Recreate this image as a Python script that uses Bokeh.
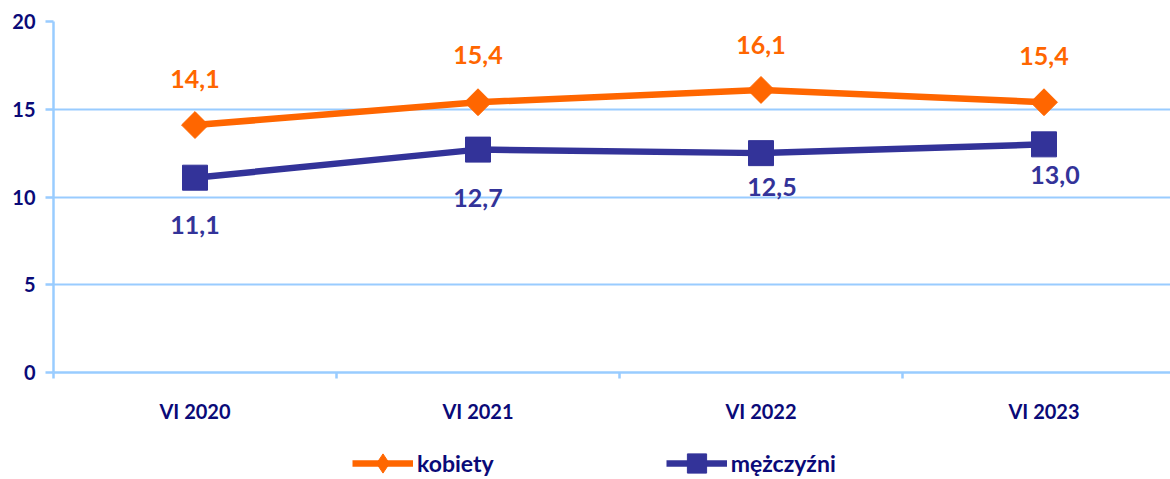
from bokeh.plotting import figure
from bokeh.layouts import column
from bokeh.models import ColumnDataSource, FixedTicker, Legend, LegendItem, Range1d
from bokeh.core.properties import value
from bokeh.embed import file_html
from bokeh.resources import INLINE

categories = ["VI 2020", "VI 2021", "VI 2022", "VI 2023"]
kobiety = [14.1, 15.4, 16.1, 15.4]
mezczyzni = [11.1, 12.7, 12.5, 13.0]
series_names = ["kobiety", "mężczyźni"]

ORANGE = "#ff6600"
NAVY = "#333399"
DARK = "#0a0a78"
GRID = "#99ccff"
FONT = "Lato"

xs = [i + 0.5 for i in range(len(categories))]

def fmt(v):
    return f"{v:.1f}".replace(".", ",")

src_k = ColumnDataSource(dict(x=xs, y=kobiety, t=[fmt(v) for v in kobiety],
                              dx=[0, 0, 0, 0], dy=[-46, -47, -45, -46]))
src_m = ColumnDataSource(dict(x=xs, y=mezczyzni, t=[fmt(v) for v in mezczyzni],
                              dx=[0, 0, 11, 11], dy=[47, 48, 34, 31]))

p = figure(frame_width=1117, frame_height=351, output_backend="svg", toolbar_location=None,
           x_range=Range1d(0, 1117 / 283), y_range=Range1d(0, 20),
           min_border_left=53, min_border_right=0, min_border_top=21, min_border_bottom=60)
p.outline_line_color = None
p.background_fill_color = "white"
p.border_fill_color = "white"

# axes
p.xgrid.grid_line_color = None
p.ygrid.grid_line_color = GRID
p.ygrid.grid_line_width = 2
p.ygrid.ticker = FixedTicker(ticks=[0, 5, 10, 15, 20])

p.yaxis.ticker = FixedTicker(ticks=[0, 5, 10, 15, 20])
p.yaxis.axis_line_color = GRID
p.yaxis.axis_line_width = 2.5
p.yaxis.major_tick_line_color = GRID
p.yaxis.major_tick_line_width = 2.5
p.yaxis.major_tick_out = 8
p.yaxis.major_tick_in = 0
p.yaxis.minor_tick_line_color = None
p.yaxis.major_label_standoff = 10
p.yaxis.major_label_text_font = FONT
p.yaxis.major_label_text_font_style = "bold"
p.yaxis.major_label_text_font_size = "20px"
p.yaxis.major_label_text_color = DARK

p.xaxis.ticker = FixedTicker(ticks=xs, minor_ticks=[0, 1, 2, 3])
p.xaxis.major_label_overrides = {x: c for x, c in zip(xs, categories)}
p.xaxis.axis_line_color = GRID
p.xaxis.axis_line_width = 2.5
p.xaxis.major_tick_line_color = None
p.xaxis.major_tick_out = 0
p.xaxis.major_tick_in = 0
p.xaxis.minor_tick_line_color = GRID
p.xaxis.minor_tick_line_width = 2.5
p.xaxis.minor_tick_out = 6
p.xaxis.minor_tick_in = 0
p.xaxis.major_label_standoff = 20
p.xaxis.major_label_text_font = FONT
p.xaxis.major_label_text_font_style = "bold"
p.xaxis.major_label_text_font_size = "20px"
p.xaxis.major_label_text_color = DARK

# series
p.line("x", "y", source=src_k, line_color=ORANGE, line_width=6.5)
p.scatter("x", "y", source=src_k, marker="square", angle=0.785398, size=19,
          fill_color=ORANGE, line_color=ORANGE)
p.line("x", "y", source=src_m, line_color=NAVY, line_width=6.5)
p.scatter("x", "y", source=src_m, marker="square", size=25,
          fill_color=NAVY, line_color=NAVY)

p.text("x", "y", text="t", source=src_k, x_offset="dx", y_offset="dy",
       text_font=value(FONT), text_font_style="bold", text_font_size="25px",
       text_color=ORANGE, text_align="center", text_baseline="middle")
p.text("x", "y", text="t", source=src_m, x_offset="dx", y_offset="dy",
       text_font=value(FONT), text_font_style="bold", text_font_size="25px",
       text_color=NAVY, text_align="center", text_baseline="middle")

# legend strip (series drawn out of its view; only the legend shows)
lg = figure(frame_width=1117, frame_height=47, output_backend="svg", toolbar_location=None,
            x_range=Range1d(-10, -9), y_range=Range1d(-10, -9),
            x_axis_type=None, y_axis_type=None,
            min_border_left=53, min_border_right=0, min_border_top=0, min_border_bottom=0)
lg.outline_line_color = None
lg.xgrid.grid_line_color = None
lg.ygrid.grid_line_color = None
lk = lg.line("x", "y", source=src_k, line_color=ORANGE, line_width=6.5)
mk = lg.scatter("x", "y", source=src_k, marker="diamond",
                fill_color=ORANGE, line_color=ORANGE)
lm = lg.line("x", "y", source=src_m, line_color=NAVY, line_width=6.5)
mm = lg.scatter("x", "y", source=src_m, marker="square",
                fill_color=NAVY, line_color=NAVY)

legend = Legend(items=[LegendItem(label=series_names[0], renderers=[lk, mk]),
                       LegendItem(label=series_names[1], renderers=[lm, mm])],
                orientation="horizontal", location=(299, -8),
                glyph_width=61, glyph_height=48, label_standoff=4, spacing=172,
                label_text_font=FONT, label_text_font_style="bold",
                label_text_font_size="23px", label_text_color=DARK,
                border_line_color=None, background_fill_alpha=0,
                padding=0, margin=0)
lg.add_layout(legend)

layout = column(p, lg, spacing=0)
open("out.html", "w").write(file_html(layout, INLINE))
